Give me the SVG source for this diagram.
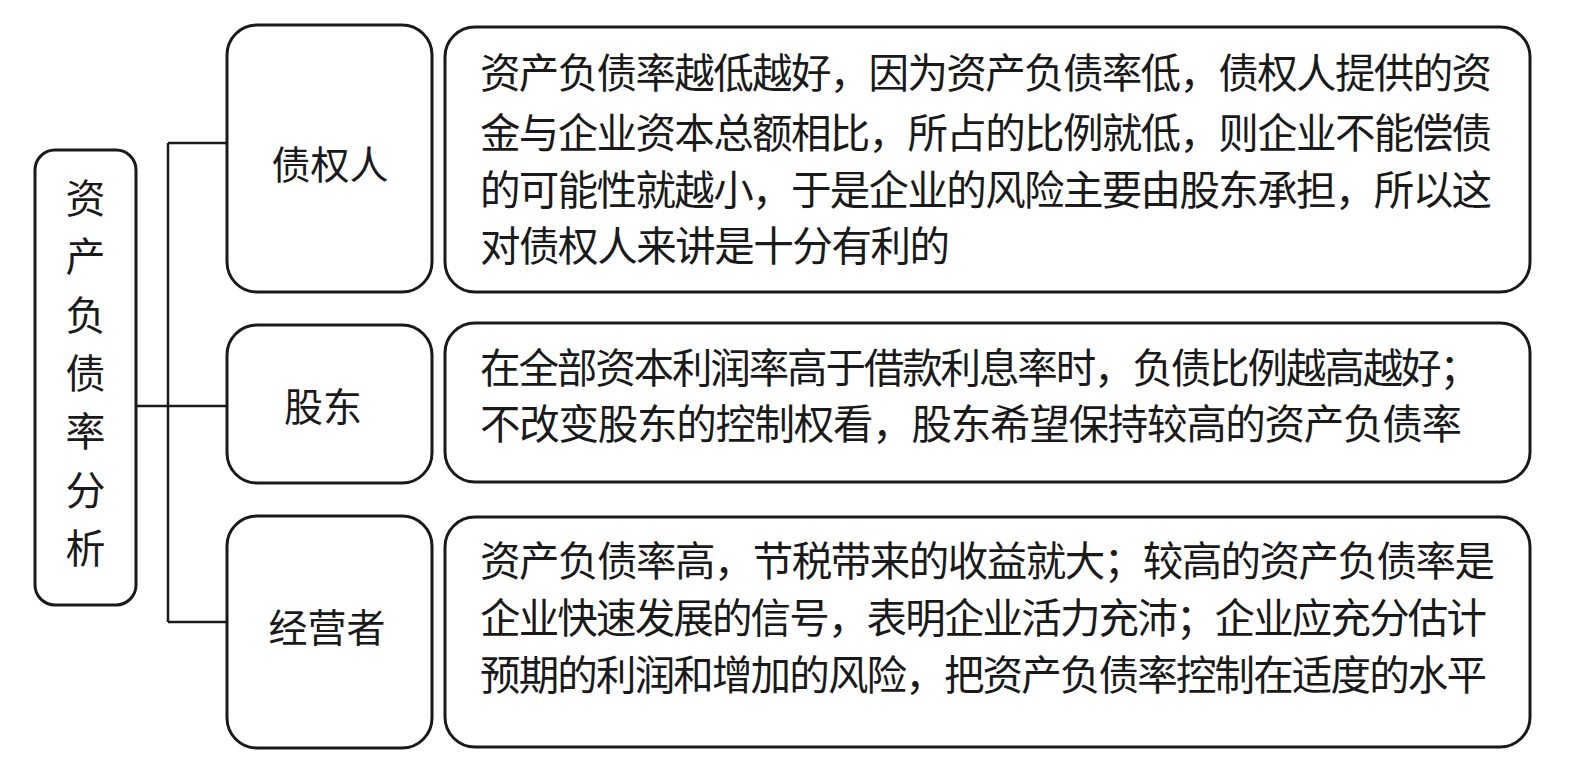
<svg xmlns="http://www.w3.org/2000/svg" width="1571" height="779" viewBox="0 0 1571 779">
<style>
.box{fill:#fff;stroke:#1a1a1a;stroke-width:3}
.ln{fill:none;stroke:#1a1a1a;stroke-width:2.5}
text{font-family:"Noto Sans CJK SC","Noto Sans CJK TC",sans-serif;fill:#1a1a1a}
.t{font-size:40.5px}
.lb{font-size:39px;text-anchor:middle}
.v{font-size:40px;text-anchor:middle}
</style>
<rect width="1571" height="779" fill="#fff"/>
<g id="connectors">
<path class="ln" d="M137 406H227M168 143V622M168 143H227M168 622H227"/>
</g>
<g id="root">
<rect class="box" x="35" y="150" width="101" height="455" rx="20"/>
<text class="v" x="85.5" y="213">资</text>
<text class="v" x="85.5" y="271">产</text>
<text class="v" x="85.5" y="330">负</text>
<text class="v" x="85.5" y="388">债</text>
<text class="v" x="85.5" y="446">率</text>
<text class="v" x="85.5" y="505">分</text>
<text class="v" x="85.5" y="563">析</text>
</g>
<g id="creditor">
<rect class="box" x="227" y="25" width="205" height="267" rx="30"/>
<text class="lb" x="330" y="179">债权人</text>
</g>
<g id="creditor-text">
<rect class="box" x="445" y="27" width="1085" height="265" rx="30"/>
<text class="t" x="480" y="88" textLength="1012" lengthAdjust="spacing">资产负债率越低越好，因为资产负债率低，债权人提供的资</text>
<text class="t" x="480" y="148" textLength="1012" lengthAdjust="spacing">金与企业资本总额相比，所占的比例就低，则企业不能偿债</text>
<text class="t" x="480" y="205" textLength="1012" lengthAdjust="spacing">的可能性就越小，于是企业的风险主要由股东承担，所以这</text>
<text class="t" x="480" y="261" textLength="470" lengthAdjust="spacing">对债权人来讲是十分有利的</text>
</g>
<g id="shareholder">
<rect class="box" x="227" y="325" width="205" height="158" rx="30"/>
<text class="lb" x="323" y="421">股东</text>
</g>
<g id="shareholder-text">
<rect class="box" x="445" y="323" width="1085" height="159" rx="30"/>
<text class="t" x="480" y="383" textLength="1000" lengthAdjust="spacing">在全部资本利润率高于借款利息率时，负债比例越高越好；</text>
<text class="t" x="480" y="439" textLength="982" lengthAdjust="spacing">不改变股东的控制权看，股东希望保持较高的资产负债率</text>
</g>
<g id="manager">
<rect class="box" x="227" y="516" width="205" height="232" rx="30"/>
<text class="lb" x="327" y="642">经营者</text>
</g>
<g id="manager-text">
<rect class="box" x="445" y="517" width="1085" height="230" rx="30"/>
<text class="t" x="480" y="576" textLength="1015" lengthAdjust="spacing">资产负债率高，节税带来的收益就大；较高的资产负债率是</text>
<text class="t" x="480" y="633" textLength="1007" lengthAdjust="spacing">企业快速发展的信号，表明企业活力充沛；企业应充分估计</text>
<text class="t" x="480" y="690" textLength="1007" lengthAdjust="spacing">预期的利润和增加的风险，把资产负债率控制在适度的水平</text>
</g>
</svg>
